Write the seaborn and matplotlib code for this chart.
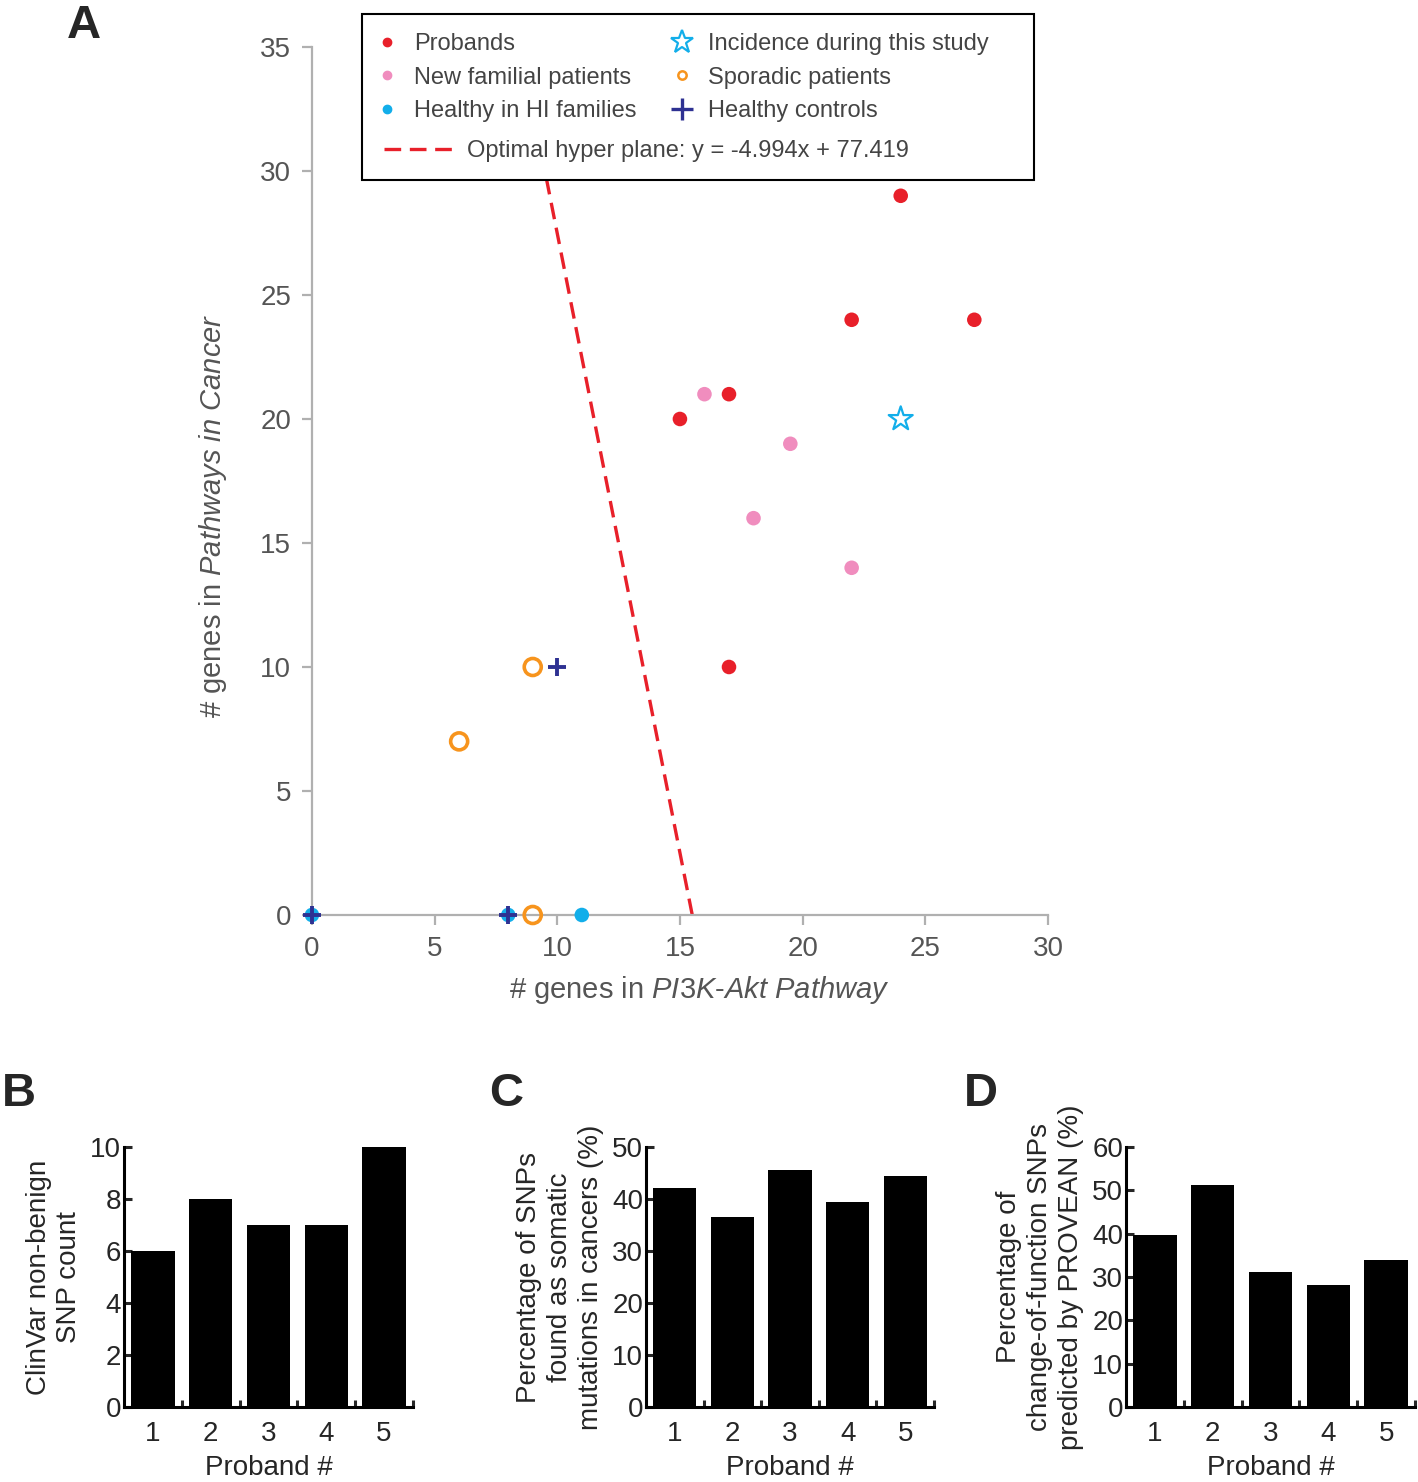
import numpy as np
import pandas as pd
import matplotlib
matplotlib.use("Agg")
import matplotlib.pyplot as plt
import seaborn as sns
from matplotlib import font_manager
from matplotlib.lines import Line2D
from matplotlib.patches import Rectangle

# ---------------- data ----------------
proband_x = [15, 17, 22, 27, 24, 17]
proband_y = [20, 21, 24, 24, 29, 10]
familial_x = [16, 19.5, 18, 22]
familial_y = [21, 19, 16, 14]
hi_healthy_x = [0, 8, 11]
hi_healthy_y = [0, 0, 0]
incidence_x = [24]
incidence_y = [20]
sporadic_x = [9, 6, 9]
sporadic_y = [10, 7, 0]
controls_x = [10, 0, 8]
controls_y = [10, 0, 0]
plane_slope = -4.994
plane_intercept = 77.419
plane_y_ends = [0, 35]

probands = ["1", "2", "3", "4", "5"]
clinvar_counts = [6, 8, 7, 7, 10]
somatic_pct = [42.1, 36.6, 45.6, 39.4, 44.4]
provean_pct = [39.8, 51.2, 31.1, 28.2, 33.9]

# ---------------- fonts ----------------
sns.set_style("white")
names = {f.name for f in font_manager.fontManager.ttflist}
narrow = "Liberation Sans Narrow" if "Liberation Sans Narrow" in names else "Liberation Sans"
plt.rcParams["font.family"] = ["Liberation Sans", "DejaVu Sans"]
plt.rcParams["mathtext.fontset"] = "custom"
plt.rcParams["mathtext.rm"] = narrow
plt.rcParams["mathtext.it"] = narrow + ":italic"

RED = "#E8202A"
PINK = "#F08DBE"
LBLUE = "#12AEEA"
ORANGE = "#F7941D"
NAVY = "#2E3192"
GRAY_SP = "#B0B0B0"
GRAY_TX = "#555555"
DASH = (0, (5, 2.6))

fig = plt.figure(figsize=(14.18, 14.82), dpi=100)

# ---------------- panel A ----------------
axA = fig.add_axes([0.2200, 0.3826, 0.5190, 0.5857])
line_x = [(y - plane_intercept) / plane_slope for y in plane_y_ends]
sns.lineplot(x=line_x, y=plane_y_ends, ax=axA, color=RED, lw=2.4,
             linestyle=DASH, zorder=2, sort=False)

sns.scatterplot(x=proband_x, y=proband_y, ax=axA, color=RED, s=110,
                edgecolor="none", clip_on=False, zorder=4)
sns.scatterplot(x=familial_x, y=familial_y, ax=axA, color=PINK, s=110,
                edgecolor="none", clip_on=False, zorder=4)
sns.scatterplot(x=hi_healthy_x, y=hi_healthy_y, ax=axA, color=LBLUE, s=110,
                edgecolor="none", clip_on=False, zorder=4)
axA.scatter(incidence_x, incidence_y, marker="*", s=330, facecolors="none",
            edgecolors=LBLUE, linewidths=1.6, clip_on=False, zorder=4)
axA.scatter(sporadic_x, sporadic_y, marker="o", s=150, facecolors="none",
            edgecolors=ORANGE, linewidths=2.6, clip_on=False, zorder=4)
sns.scatterplot(x=controls_x, y=controls_y, ax=axA, color=NAVY, marker="+",
                s=150, linewidth=2.8, clip_on=False, zorder=5)

axA.set_xlim(0, 30)
axA.set_ylim(0, 35)
axA.set_xticks(range(0, 31, 5))
axA.set_yticks(range(0, 36, 5))
for s in ["top", "right"]:
    axA.spines[s].set_visible(False)
for s in ["left", "bottom"]:
    axA.spines[s].set_color(GRAY_SP)
    axA.spines[s].set_linewidth(1.6)
axA.tick_params(axis="both", direction="out", length=7, width=1.6,
                color=GRAY_SP, labelcolor=GRAY_TX, labelsize=20, pad=8)
axA.tick_params(axis="y", left=True)
axA.tick_params(axis="x", bottom=True)
for lab in axA.get_xticklabels() + axA.get_yticklabels():
    lab.set_fontfamily([narrow, "DejaVu Sans"])
axA.set_xlabel(r"# genes in $\mathit{PI3K}$-$\mathit{Akt\ Pathway}$",
               fontsize=21, color=GRAY_TX, family=[narrow, "DejaVu Sans"])
axA.set_ylabel(r"# genes in $\mathit{Pathways\ in\ Cancer}$",
               fontsize=21, color=GRAY_TX, family=[narrow, "DejaVu Sans"])
axA.xaxis.set_label_coords(0.526, -0.068)
axA.yaxis.set_label_coords(-0.113, 0.46)

# legend frame
frame = Rectangle((0.068, 0.8468), 0.913, 0.191, transform=axA.transAxes,
                  facecolor="white", edgecolor="black", lw=1.5, zorder=10,
                  clip_on=False)
axA.add_patch(frame)

mk = dict(linestyle="none")
handles = [
    Line2D([], [], marker="o", color=RED, markersize=6, **mk),
    Line2D([], [], marker="o", color=PINK, markersize=6, **mk),
    Line2D([], [], marker="o", color=LBLUE, markersize=6, **mk),
    Line2D([], [], marker="*", markerfacecolor="none", markeredgecolor=LBLUE,
           markersize=17, markeredgewidth=1.6, **mk),
    Line2D([], [], marker="o", markerfacecolor="none", markeredgecolor=ORANGE,
           markersize=6, markeredgewidth=1.8, **mk),
    Line2D([], [], marker="+", color=NAVY, markersize=16, markeredgewidth=2.4, **mk),
]
labels = ["Probands", "New familial patients", "Healthy in HI families",
          "Incidence during this study", "Sporadic patients", "Healthy controls"]
leg1 = axA.legend(handles, labels, ncol=2, loc="upper left",
                  bbox_to_anchor=(0.0734, 1.0265), frameon=False,
                  prop={"family": [narrow, "DejaVu Sans"], "size": 17},
                  labelcolor="#444444", handlelength=1.0, handletextpad=0.64,
                  columnspacing=1.4, labelspacing=0.48, borderaxespad=0)
leg1.set_zorder(11)
axA.add_artist(leg1)
leg2 = axA.legend([Line2D([], [], color=RED, lw=2.4, linestyle=DASH)],
                  ["Optimal hyper plane: y = -4.994x + 77.419"],
                  loc="upper left", bbox_to_anchor=(0.085, 0.9032), frameon=False,
                  prop={"family": [narrow, "DejaVu Sans"], "size": 17},
                  labelcolor="#444444", handlelength=2.9, handletextpad=0.6,
                  borderaxespad=0)
leg2.set_zorder(11)

fig.text(0.047, 0.997, "A", fontsize=34, fontweight="bold", va="top", ha="left")

# ---------------- bar panels ----------------
def bar_panel(rect, values, ymax, ystep, ylabel, letter, letter_x, lsp):
    ax = fig.add_axes(rect)
    df = pd.DataFrame({"Proband": probands, "val": values})
    sns.barplot(data=df, x="Proband", y="val", ax=ax, color="black",
                saturation=1, width=0.75, edgecolor="none")
    ax.set_xlim(-0.5, 4.5)
    ax.set_ylim(0, ymax)
    ax.set_yticks(np.arange(0, ymax + 0.1, ystep))
    ax.set_xticks([0.5, 1.5, 2.5, 3.5, 4.5], minor=True)
    for s in ["top", "right"]:
        ax.spines[s].set_visible(False)
    for s in ["left", "bottom"]:
        ax.spines[s].set_color("black")
        ax.spines[s].set_linewidth(2.2)
    ax.tick_params(axis="x", which="major", length=0, labelsize=20, pad=10)
    ax.tick_params(axis="x", which="minor", direction="in", length=5, width=2.2,
                   bottom=True)
    ax.tick_params(axis="y", direction="in", length=6, width=2.2, left=True,
                   labelsize=20, pad=2)
    ax.set_xlabel("Proband #", fontsize=20, labelpad=6)
    ax.set_ylabel(ylabel, fontsize=20, labelpad=6, linespacing=lsp)
    fig.text(letter_x, 1 - 1072 / 1482, letter, fontsize=34, fontweight="bold",
             va="top", ha="left")
    return ax

bar_panel([0.0874, 0.0506, 0.2038, 0.1754], clinvar_counts, 10, 2,
          "ClinVar non-benign\nSNP count", "B", 0.001, 1.2)
bar_panel([0.4556, 0.0506, 0.2031, 0.1754], somatic_pct, 50, 10,
          "Percentage of SNPs\nfound as somatic\nmutations in cancers (%)", "C", 0.345, 1.25)
bar_panel([0.7941, 0.0506, 0.2038, 0.1754], provean_pct, 60, 10,
          "Percentage of\nchange-of-function SNPs\npredicted by PROVEAN (%)", "D", 0.68, 1.25)

fig.savefig("out.png", dpi=100)
